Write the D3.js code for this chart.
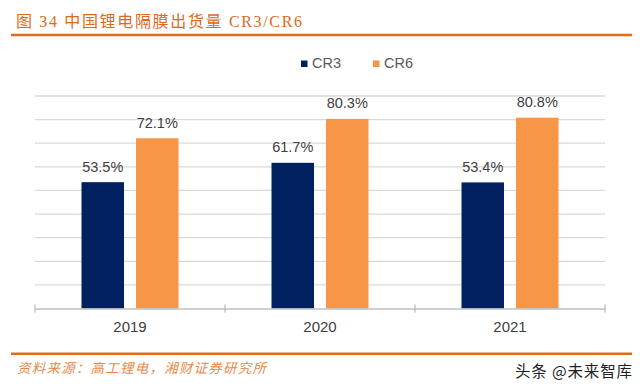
<!DOCTYPE html>
<html><head><meta charset="utf-8">
<script src="https://cdn.jsdelivr.net/npm/d3@7/dist/d3.min.js"></script>
<style>body{margin:0;background:#fff}svg{display:block}</style>
</head><body>
<script>
const categories = ["2019", "2020", "2021"];
const seriesNames = ["CR3", "CR6"];
const cr3 = [53.5, 61.7, 53.4];
const cr6 = [72.1, 80.3, 80.8];
const yTicks = [0, 10, 20, 30, 40, 50, 60, 70, 80, 90];
const colors = ["#002060", "#F79646"];
const titleText = "图 34 中国锂电隔膜出货量 CR3/CR6";
const sourceText = "资料来源：高工锂电，湘财证券研究所";
const watermark = "头条 @未来智库";

const W = 640, H = 389;
const svg = d3.select("body").append("svg").attr("width", W).attr("height", H);
const latin = "Arial, 'Liberation Sans', sans-serif";

// title
svg.append("text").attr("x", 16).attr("y", 26.5).text(titleText)
  .attr("font-family", "'Liberation Serif', 'Noto Sans CJK SC', serif").attr("font-size", 16)
  .attr("textLength", 286).attr("lengthAdjust", "spacing")
  .attr("fill", "#DD6A1C");
svg.append("line").attr("x1", 11).attr("x2", 632).attr("y1", 35).attr("y2", 35)
  .attr("stroke", "#E36C1A").attr("stroke-width", 2.5);

const x0 = d3.scaleBand().domain(categories).range([35, 605]);
const y = d3.scaleLinear().domain([0, 90]).range([308.5, 96]);

// gridlines
svg.append("g").selectAll("line").data(yTicks.slice(1)).join("line")
  .attr("x1", 35).attr("x2", 605).attr("y1", d => y(d)).attr("y2", d => y(d))
  .attr("stroke", "#d9d9d9").attr("stroke-width", 1.3);

// bars
const groupW = 97;
const barW = 42.5;
const data = categories.map((c, i) => ({c, vals: [cr3[i], cr6[i]]}));
const g = svg.append("g");
data.forEach(d => {
  const cx = x0(d.c) + x0.bandwidth() / 2;
  d.vals.forEach((v, j) => {
    const xb = cx - groupW / 2 + j * (groupW - barW);
    g.append("rect").attr("x", xb).attr("y", y(v)).attr("width", barW).attr("height", y(0) - y(v))
      .attr("fill", colors[j]);
    g.append("text").attr("x", xb + barW / 2).attr("y", y(v) - 10.5).attr("text-anchor", "middle")
      .text(v.toFixed(1) + "%")
      .attr("font-family", latin).attr("font-size", 14.5).attr("fill", "#404040");
  });
});

// x axis
const xAxis = d3.axisBottom(x0).tickSize(0).tickPadding(12);
const ax = svg.append("g").attr("transform", "translate(0," + y(0) + ")").call(xAxis);
ax.select(".domain").attr("stroke", "#bfbfbf").attr("stroke-width", 1.3);
ax.selectAll(".tick text").attr("font-family", latin).attr("font-size", 15).attr("fill", "#404040")
  .attr("dy", null).attr("y", 23);
const bounds = categories.map(c => x0(c)).concat([x0.range()[1]]);
ax.selectAll(".sep").data(bounds).join("line").attr("class", "sep")
  .attr("x1", d => d).attr("x2", d => d).attr("y1", -4).attr("y2", 4)
  .attr("stroke", "#bfbfbf").attr("stroke-width", 1.3);

// legend
const lg = svg.append("g");
const legendX = [301, 373];
seriesNames.forEach((s, j) => {
  lg.append("rect").attr("x", legendX[j]).attr("y", 60.5).attr("width", 6.5).attr("height", 6.5).attr("fill", colors[j]);
  lg.append("text").attr("x", legendX[j] + 11).attr("y", 67.5).text(s)
    .attr("font-family", latin).attr("font-size", 14.5).attr("fill", "#595959");
});

// footer
svg.append("line").attr("x1", 11).attr("x2", 632).attr("y1", 353.7).attr("y2", 353.7)
  .attr("stroke", "#E36C1A").attr("stroke-width", 2.5);
svg.append("text").attr("x", 17).attr("y", 373).text(sourceText)
  .attr("font-family", "'Noto Sans CJK SC', sans-serif").attr("font-size", 13.5).attr("font-style", "italic")
  .attr("textLength", 249).attr("lengthAdjust", "spacing")
  .attr("fill", "#E88A4A");
svg.append("text").attr("x", 632).attr("y", 377).attr("text-anchor", "end").text(watermark)
  .attr("font-family", "'Noto Sans CJK SC', sans-serif").attr("font-size", 15.5)
  .attr("textLength", 117).attr("lengthAdjust", "spacing")
  .attr("fill", "#222");
</script>
</body></html>
